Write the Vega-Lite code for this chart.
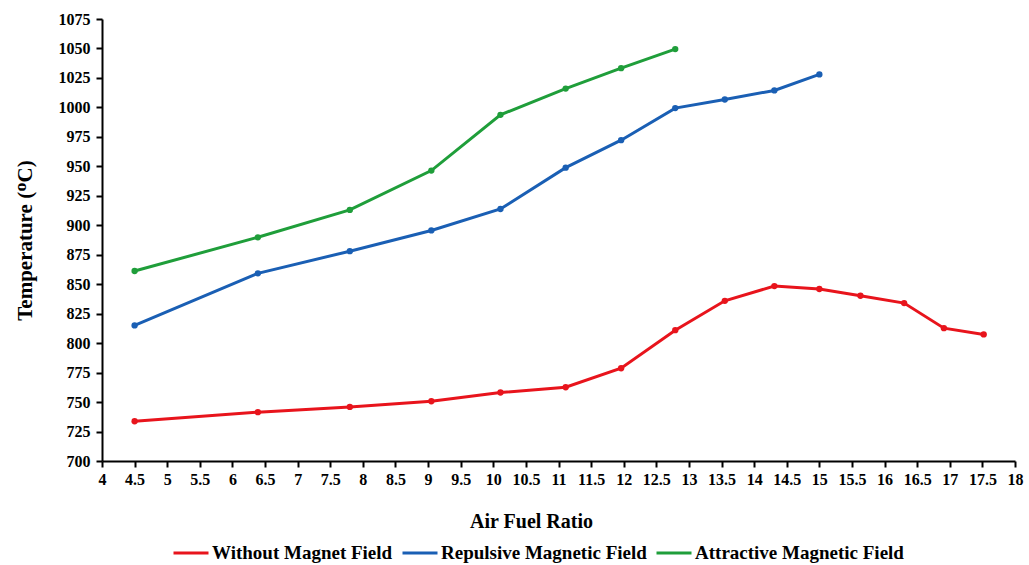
{
  "$schema": "https://vega.github.io/schema/vega-lite/v6.json",
  "autosize": {"type": "none"},
  "width": 913,
  "height": 442,
  "padding": {"left": 102, "top": 19, "right": 14, "bottom": 104},
  "background": "white",
  "config": {
    "view": {"stroke": null},
    "font": "Liberation Serif",
    "axis": {"grid": false, "domainColor": "#000", "domainWidth": 2, "tickColor": "#000", "tickWidth": 2, "tickSize": 6,
      "labelFont": "Liberation Serif", "labelFontWeight": "bold", "labelFontSize": 16, "labelColor": "#000",
      "titleFont": "Liberation Serif", "titleFontWeight": "bold", "titleColor": "#000"}
  },
  "data": {"values": [
    {"series": "Without Magnet Field", "afr": 4.5, "temp": 733.7},
    {"series": "Without Magnet Field", "afr": 6.39, "temp": 741.4},
    {"series": "Without Magnet Field", "afr": 7.8, "temp": 745.9},
    {"series": "Without Magnet Field", "afr": 9.05, "temp": 750.7},
    {"series": "Without Magnet Field", "afr": 10.11, "temp": 758.1},
    {"series": "Without Magnet Field", "afr": 11.11, "temp": 762.6},
    {"series": "Without Magnet Field", "afr": 11.96, "temp": 778.7},
    {"series": "Without Magnet Field", "afr": 12.79, "temp": 811},
    {"series": "Without Magnet Field", "afr": 13.55, "temp": 835.9},
    {"series": "Without Magnet Field", "afr": 14.31, "temp": 848.4},
    {"series": "Without Magnet Field", "afr": 15.0, "temp": 845.9},
    {"series": "Without Magnet Field", "afr": 15.63, "temp": 840.2},
    {"series": "Without Magnet Field", "afr": 16.3, "temp": 834.0},
    {"series": "Without Magnet Field", "afr": 16.91, "temp": 812.7},
    {"series": "Without Magnet Field", "afr": 17.52, "temp": 807.4},
    {"series": "Repulsive Magnetic Field", "afr": 4.5, "temp": 815.0},
    {"series": "Repulsive Magnetic Field", "afr": 6.39, "temp": 859.2},
    {"series": "Repulsive Magnetic Field", "afr": 7.8, "temp": 878},
    {"series": "Repulsive Magnetic Field", "afr": 9.05, "temp": 895.6},
    {"series": "Repulsive Magnetic Field", "afr": 10.11, "temp": 913.8},
    {"series": "Repulsive Magnetic Field", "afr": 11.11, "temp": 948.9},
    {"series": "Repulsive Magnetic Field", "afr": 11.96, "temp": 972.2},
    {"series": "Repulsive Magnetic Field", "afr": 12.79, "temp": 999.4},
    {"series": "Repulsive Magnetic Field", "afr": 13.55, "temp": 1006.7},
    {"series": "Repulsive Magnetic Field", "afr": 14.31, "temp": 1014.4},
    {"series": "Repulsive Magnetic Field", "afr": 15.0, "temp": 1028},
    {"series": "Attractive Magnetic Field", "afr": 4.5, "temp": 861.2},
    {"series": "Attractive Magnetic Field", "afr": 6.39, "temp": 889.8},
    {"series": "Attractive Magnetic Field", "afr": 7.8, "temp": 913},
    {"series": "Attractive Magnetic Field", "afr": 9.05, "temp": 946.4},
    {"series": "Attractive Magnetic Field", "afr": 10.11, "temp": 993.7},
    {"series": "Attractive Magnetic Field", "afr": 11.11, "temp": 1016.0},
    {"series": "Attractive Magnetic Field", "afr": 11.96, "temp": 1033.3},
    {"series": "Attractive Magnetic Field", "afr": 12.79, "temp": 1049.5}
  ]},
  "mark": {"type": "line", "strokeWidth": 3, "point": {"filled": true, "size": 40}},
  "encoding": {
    "x": {"field": "afr", "type": "quantitative",
      "scale": {"domain": [4, 18], "nice": false, "zero": false},
      "axis": {"values": [4,4.5,5,5.5,6,6.5,7,7.5,8,8.5,9,9.5,10,10.5,11,11.5,12,12.5,13,13.5,14,14.5,15,15.5,16,16.5,17,17.5,18],
        "format": "~g", "labelPadding": 4, "labelFlush": false, "labelOverlap": false,
        "title": "Air Fuel Ratio", "titleFontSize": 20, "titleX": 429, "titleY": 60, "titleBaseline": "middle"}},
    "y": {"field": "temp", "type": "quantitative",
      "scale": {"domain": [700, 1075], "nice": false, "zero": false},
      "axis": {"values": [700,725,750,775,800,825,850,875,900,925,950,975,1000,1025,1050,1075],
        "format": "d", "labelPadding": 6, "labelFlush": false, "labelOverlap": false,
        "title": "Temperature (ᴼC)", "titleFontSize": 21, "titlePadding": 23}},
    "color": {"field": "series", "type": "nominal",
      "scale": {"domain": ["Without Magnet Field", "Repulsive Magnetic Field", "Attractive Magnetic Field"],
        "range": ["#e8141c", "#1a5fb4", "#1f9e3a"]},
      "legend": {"title": null, "orient": "none", "direction": "horizontal", "legendX": 70, "legendY": 515,
        "labelFont": "Liberation Serif", "labelFontWeight": "bold", "labelFontSize": 19, "labelColor": "#000", "labelLimit": 0,
        "symbolType": "stroke", "symbolStrokeWidth": 3, "symbolSize": 1225, "columnPadding": 3, "labelOffset": 2}}
  }
}
